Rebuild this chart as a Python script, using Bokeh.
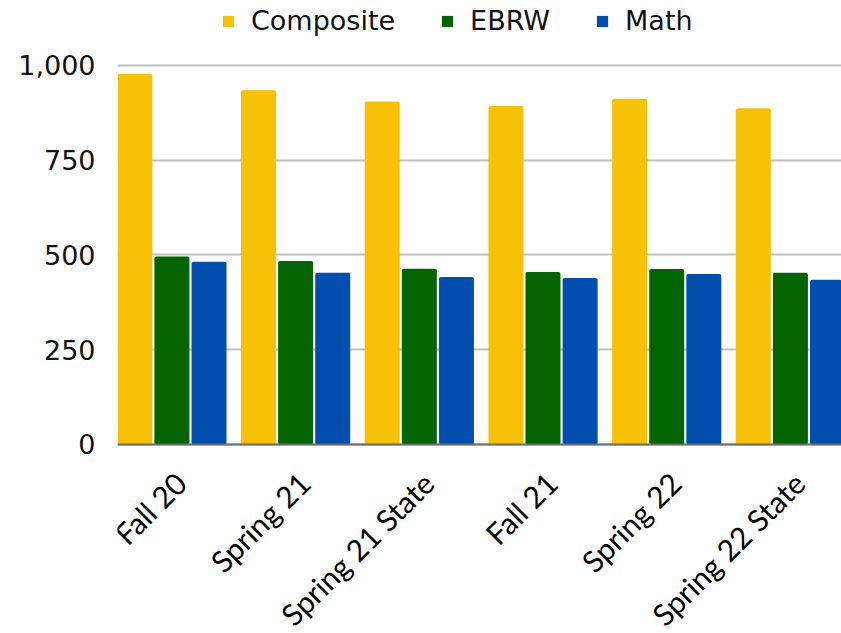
import math
from bokeh.plotting import figure
from bokeh.models import (ColumnDataSource, Range1d, FixedTicker, Legend, LegendItem,
                          NumeralTickFormatter, Span)
from bokeh.core.properties import value
from bokeh.transform import dodge
from bokeh.embed import file_html
from bokeh.resources import INLINE

# ---- data ----
categories = ["Fall 20", "Spring 21", "Spring 21 State", "Fall 21", "Spring 22", "Spring 22 State"]
composite = [978, 935, 905, 893, 912, 887]
ebrw = [496, 484, 464, 455, 463, 453]
math_scores = [482, 453, 442, 439, 450, 435]
y_ticks = [0, 250, 500, 750, 1000]

series_names = ["Composite", "EBRW", "Math"]
series_colors = ["#F7C106", "#026502", "#014EAF"]

idx = list(range(len(categories)))
source = ColumnDataSource(dict(x=idx, cat=categories, Composite=composite,
                               EBRW=ebrw, Math=math_scores,
                               lx=[i + 0.07 for i in idx], ly=[0] * len(idx)))

# frame spans the full height; values 0..1000 occupy the middle band
p = figure(width=841, height=633, output_backend="svg", toolbar_location=None,
           x_range=Range1d(-0.44, 5.413), y_range=Range1d(-498.7, 1171.5),
           x_axis_location=None,
           min_border_left=117, min_border_right=0, min_border_top=0,
           min_border_bottom=0, background_fill_color="white",
           border_fill_color="white")
p.outline_line_color = None

offsets = [-0.3, 0.0, 0.3]
renderers = []
for name, color, off in zip(series_names, series_colors, offsets):
    r = p.vbar(x=dodge("x", off), top=name, bottom=0, width=0.283, source=source,
               fill_color=color, line_color=None, border_radius=2)
    renderers.append(r)

# baseline (category axis line)
p.add_layout(Span(location=0, dimension="width", line_color="#6b6b6b", line_width=2))

# category labels, rotated, under the baseline
p.text(x="lx", y="ly", text="cat", source=source, angle=math.pi / 4,
       y_offset=33, text_align="right", text_baseline="middle",
       text_font=value("Lato"), text_font_size="30px", text_color="#000000")

# y axis
p.yaxis.ticker = FixedTicker(ticks=y_ticks)
p.yaxis.formatter = NumeralTickFormatter(format="0,0")
p.yaxis.major_label_text_font = "DejaVu Sans"
p.yaxis.major_label_text_font_size = "27px"
p.yaxis.major_label_text_color = "#111111"
p.yaxis.axis_line_color = None
p.yaxis.major_tick_line_color = None
p.yaxis.minor_tick_line_color = None
p.yaxis.major_tick_out = 0
p.yaxis.major_label_standoff = 22
p.xgrid.grid_line_color = None
p.ygrid.grid_line_color = "#c0c0c0"
p.ygrid.grid_line_width = 2

legend = Legend(items=[LegendItem(label=n, renderers=[r]) for n, r in zip(series_names, renderers)],
                location=(104, 597), orientation="horizontal",
                glyph_width=14, glyph_height=14, label_standoff=16, spacing=45,
                padding=0, margin=0, border_line_color=None, background_fill_alpha=0,
                label_text_font="DejaVu Sans", label_text_font_size="27px",
                label_text_color="#111111", label_height=30)
p.add_layout(legend)

open("out.html", "w").write(file_html(p, INLINE))
